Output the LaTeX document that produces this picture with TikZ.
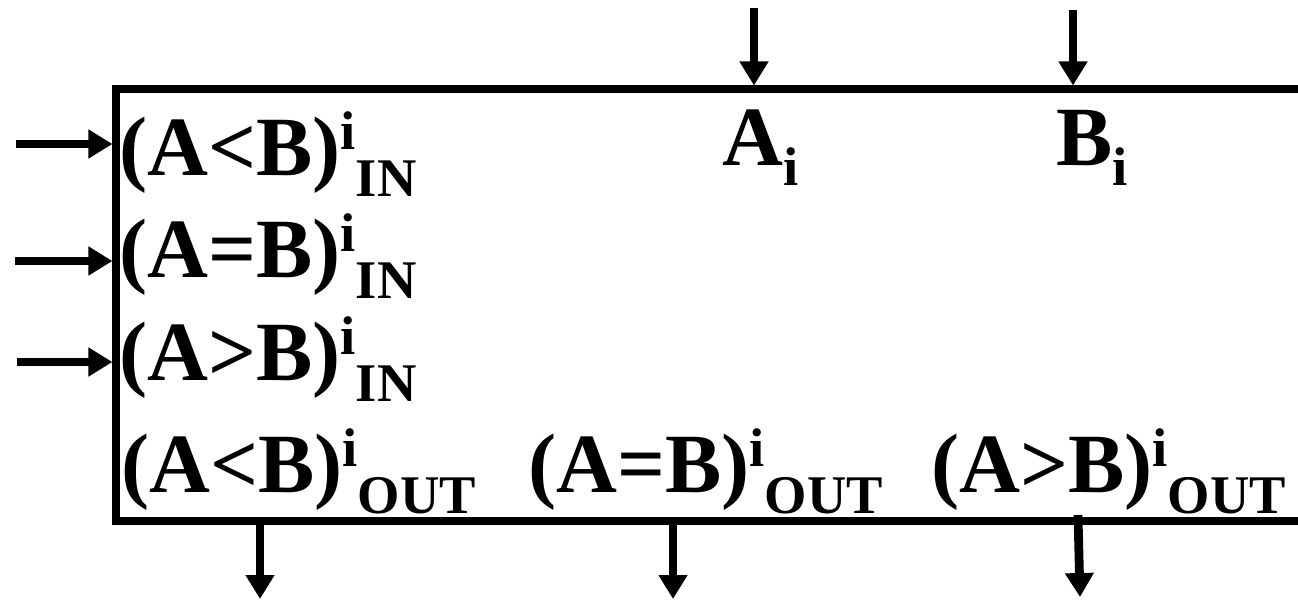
\documentclass[tikz,border=0pt]{standalone}
\usepackage{fontspec}
\setmainfont{Liberation Serif}
\newfontfamily\timesbold{Liberation Serif Bold}
\usetikzlibrary{arrows.meta}
\newcommand{\cmpfont}{\fontsize{48}{50}\selectfont\timesbold}
\newcommand{\ports}[2]{{\fontsize{31}{32}\selectfont\raisebox{14.5pt}{#1}\raisebox{-12pt}{#2}}}
\newcommand{\bitsub}[1]{{\fontsize{31}{32}\selectfont\raisebox{-11.5pt}{#1}}}

\begin{document}
\begin{tikzpicture}[x=0.02cm, y=-0.02cm,
    every node/.style={inner sep=0pt, anchor=base west, font=\cmpfont},
    frame/.style={line width=4.5pt},
    sig/.style={line width=5pt, -{Triangle[length=0.48cm, width=0.55cm]}}]
    \useasboundingbox (0,0) rectangle (1298,605);
    \clip (0,0) rectangle (1298,605);
    % comparator block, right side runs off the page
    \coordinate (tl) at (116,89);
    \coordinate (br) at (1330,521);
    \draw[frame] (tl) rectangle (br);
    % labels inside
    \node (ltin) at (119,175) {(A<B)\ports{i}{IN}};
    \node (eqin) at (119,277) {(A=B)\ports{i}{IN}};
    \node (gtin) at (119,380) {(A>B)\ports{i}{IN}};
    \node (abit) at (722,165) {A\bitsub{i}};
    \node (bbit) at (1056,165) {B\bitsub{i}};
    \node (ltout) at (121,492) {(A<B)\ports{i}{OUT}};
    \node (eqout) at (528,492) {(A=B)\ports{i}{OUT}};
    \node (gtout) at (931,492) {(A>B)\ports{i}{OUT}};
    % cascade inputs
    \foreach \y/\x/\n in {144/16/1, 261/15/2, 362/17/3} {
        \coordinate (in\n) at (\x,\y);
        \draw[sig, shorten >=2pt] (in\n) -- (in\n -| tl);
    }
    % data bits
    \foreach \x/\y/\n in {754/8/a, 1073/10/b} {
        \coordinate (top\n) at (\x,\y);
        \draw[sig, shorten >=2pt] (top\n) -- (top\n |- tl);
    }
    % outputs
    \foreach \x/\n in {260/1, 673/2} {
        \coordinate (out\n) at (\x,599);
        \draw[sig] (out\n |- br) -- (out\n);
    }
    \coordinate (gtstart) at (1078,515);
    \coordinate (out3) at (1080,597);
    \draw[sig] (gtstart) -- (out3);
\end{tikzpicture}
\end{document}
